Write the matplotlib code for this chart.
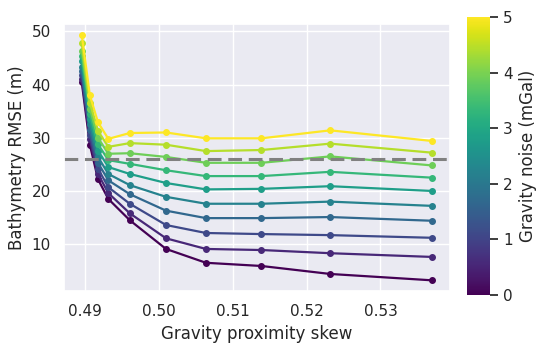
import numpy as np
import matplotlib
matplotlib.use("Agg")
import matplotlib.pyplot as plt
import seaborn as sns

sns.set_theme(style="darkgrid")

# proximity skew values (same for every noise level)
skew = [0.4896, 0.4907, 0.4918, 0.4932, 0.4961, 0.5010, 0.5064, 0.5139, 0.5232, 0.5370]

# noise levels in mGal
noise = [0.0, 0.556, 1.111, 1.667, 2.222, 2.778, 3.333, 3.889, 4.444, 5.0]

# bathymetry RMSE (m), one list per noise level
rmse_0 = [40.5, 28.7, 22.2, 18.5, 14.5, 9.1, 6.5, 5.9, 4.4, 3.2]
rmse_1 = [41.1, 29.7, 23.2, 19.6, 15.8, 11.1, 9.1, 8.9, 8.3, 7.6]
rmse_2 = [41.9, 30.6, 24.2, 20.7, 17.6, 13.6, 12.1, 11.9, 11.7, 11.2]
rmse_3 = [42.6, 31.5, 25.3, 22.0, 19.4, 16.3, 14.9, 14.9, 15.1, 14.4]
rmse_4 = [43.4, 32.5, 26.4, 23.2, 21.1, 18.9, 17.6, 17.6, 18.0, 17.2]
rmse_5 = [44.4, 33.5, 27.6, 24.5, 23.2, 21.5, 20.3, 20.4, 20.9, 20.0]
rmse_6 = [45.3, 34.5, 28.8, 25.8, 25.1, 23.9, 22.8, 22.8, 23.6, 22.5]
rmse_7 = [46.4, 35.5, 30.0, 27.0, 27.1, 26.4, 25.3, 25.3, 26.5, 24.8]
rmse_8 = [47.8, 36.6, 31.3, 28.3, 29.0, 28.7, 27.5, 27.7, 28.9, 27.2]
rmse_9 = [49.4, 38.0, 32.9, 29.8, 30.9, 31.0, 29.9, 29.9, 31.4, 29.4]
rmse = [rmse_0, rmse_1, rmse_2, rmse_3, rmse_4, rmse_5, rmse_6, rmse_7, rmse_8, rmse_9]

threshold = 26.0

fig = plt.figure(figsize=(5.44, 3.51), dpi=100)
ax = fig.add_axes([0.1176, 0.171, 0.7096, 0.7607])
cax = fig.add_axes([0.8585, 0.1595, 0.0423, 0.792])

cmap = plt.get_cmap("viridis")
norm = matplotlib.colors.Normalize(vmin=0, vmax=5)

for n, r in zip(noise, rmse):
    ax.plot(skew, r, "-o", color=cmap(norm(n)), lw=1.6, ms=4)

ax.axhline(threshold, color="gray", ls="--", lw=2.2, dashes=(4.5, 2.2))

ax.set_xlim(0.4872, 0.5394)
ax.set_ylim(1.2, 51.4)
ax.set_xticks([0.49, 0.50, 0.51, 0.52, 0.53])
ax.set_yticks([10, 20, 30, 40, 50])
ax.set_xlabel("Gravity proximity skew")
ax.set_ylabel("Bathymetry RMSE (m)")

sm = matplotlib.cm.ScalarMappable(norm=norm, cmap=cmap)
cb = fig.colorbar(sm, cax=cax)
cb.set_label("Gravity noise (mGal)")
cb.outline.set_visible(False)

fig.savefig("out.png", dpi=100)
